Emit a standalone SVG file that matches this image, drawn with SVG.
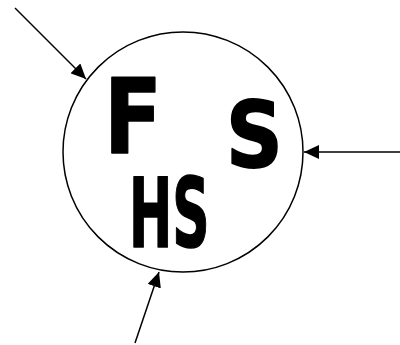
<svg xmlns="http://www.w3.org/2000/svg" width="400" height="345" viewBox="0 0 400 345">
<style>
.conn{stroke:#000;stroke-width:1.5;fill:none}
.lbl{font-family:"DejaVu Sans",sans-serif;font-weight:bold;fill:#000;stroke:#000;stroke-width:1.5;stroke-linejoin:round}
</style>
<defs>
<marker id="ah" markerUnits="userSpaceOnUse" markerWidth="16" markerHeight="14" refX="15" refY="7" orient="auto" viewBox="0 0 16 14">
<path d="M0,0 L15,7 L0,14 z" fill="#000"/>
</marker>
</defs>
<rect width="400" height="345" fill="#fff"/>
<g id="circle">
<circle cx="183" cy="152" r="120" fill="none" stroke="#000" stroke-width="1.5"/>
</g>
<g id="label-F">
<text class="lbl" transform="translate(104,153) scale(0.85,1.03)" font-size="100">F</text>
</g>
<g id="label-S">
<text class="lbl" transform="translate(226,167) scale(1.05,1.2)" font-size="75">S</text>
</g>
<g id="label-HS">
<text class="lbl" transform="translate(129,247) scale(0.54,1)" font-size="96">HS</text>
</g>
<g id="connectors">
<line class="conn" x1="15" y1="8" x2="86" y2="79" marker-end="url(#ah)"/>
<line class="conn" x1="400" y1="152" x2="304" y2="152" marker-end="url(#ah)"/>
<line class="conn" x1="135" y1="343" x2="159" y2="272" marker-end="url(#ah)"/>
</g>
</svg>
